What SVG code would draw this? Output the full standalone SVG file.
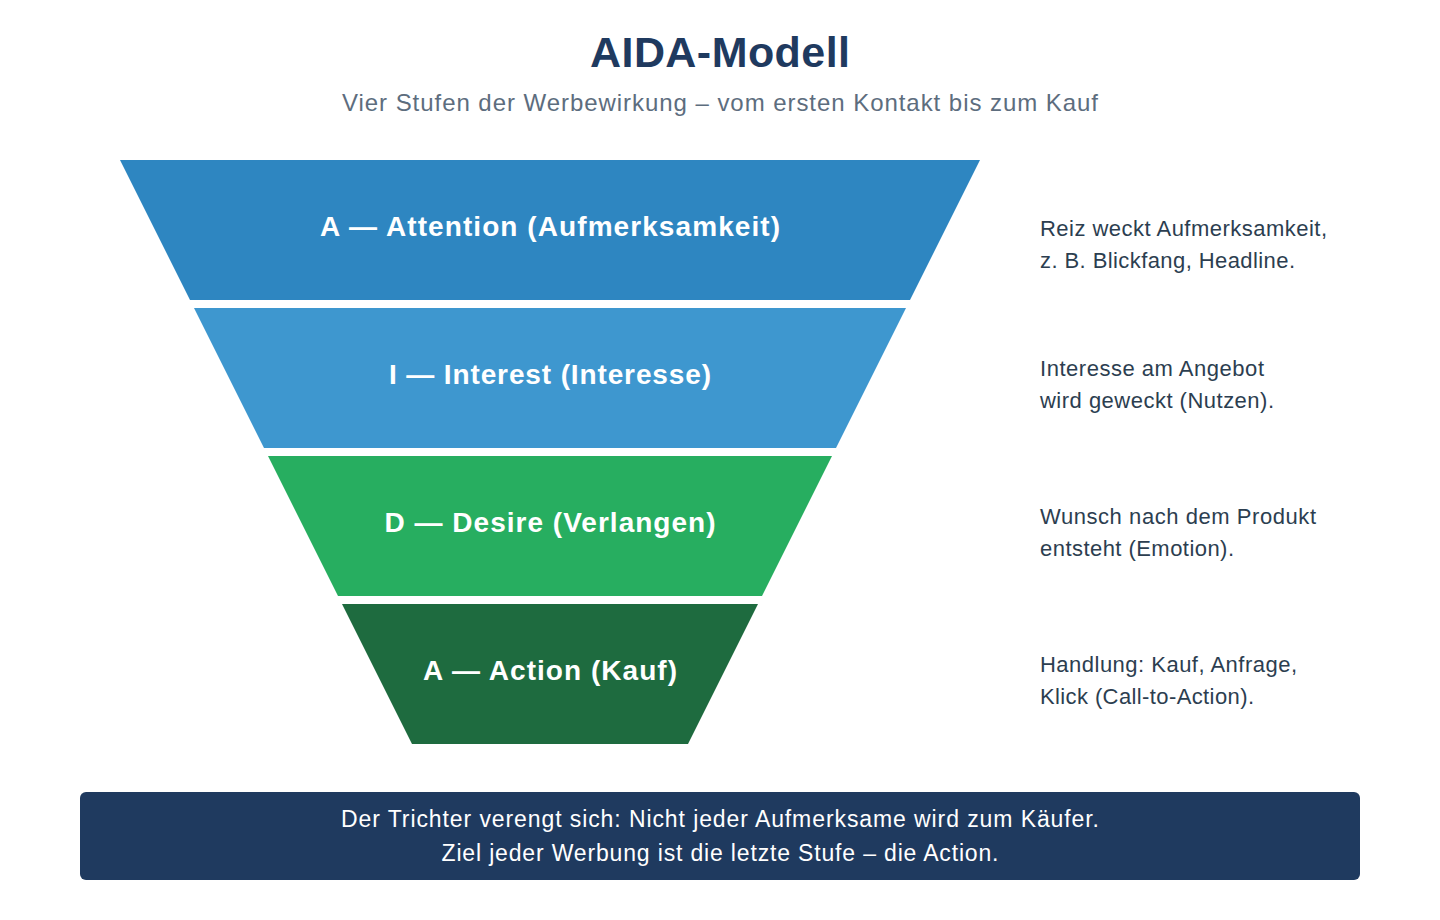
<svg xmlns="http://www.w3.org/2000/svg" width="1440" height="920" viewBox="0 0 1440 920">
<style>
.title{font-family:"Liberation Sans",Arial,sans-serif;font-weight:bold;font-size:43px;fill:#1f3a5f;text-anchor:middle}
.sub{font-family:"Liberation Sans",Arial,sans-serif;font-size:24px;fill:#5d6d7e;text-anchor:middle}
.lbl{font-family:"Liberation Sans",Arial,sans-serif;font-weight:bold;font-size:28px;fill:#ffffff;text-anchor:middle}
.desc{font-family:"Liberation Sans",Arial,sans-serif;font-size:22px;fill:#2c3e50}
.note{font-family:"Liberation Sans",Arial,sans-serif;font-size:23px;fill:#ffffff;text-anchor:middle}
</style>
<rect width="1440" height="920" fill="#ffffff"/>
<text class="title" x="720" y="67" textLength="260" lengthAdjust="spacing">AIDA-Modell</text>
<text class="sub" x="720" y="111" textLength="756" lengthAdjust="spacing">Vier Stufen der Werbewirkung – vom ersten Kontakt bis zum Kauf</text>
<g id="stage-attention">
<polygon points="120,160 980,160 910,300 190,300" fill="#2e86c1"/>
<text class="lbl" x="550" y="236" textLength="460" lengthAdjust="spacing">A — Attention (Aufmerksamkeit)</text>
<text class="desc" x="1040" y="236" textLength="287" lengthAdjust="spacing">Reiz weckt Aufmerksamkeit,</text>
<text class="desc" x="1040" y="268" textLength="255" lengthAdjust="spacing">z. B. Blickfang, Headline.</text>
</g>
<g id="stage-interest">
<polygon points="194,308 906,308 836,448 264,448" fill="#3e97cf"/>
<text class="lbl" x="550" y="384" textLength="322" lengthAdjust="spacing">I — Interest (Interesse)</text>
<text class="desc" x="1040" y="376" textLength="224" lengthAdjust="spacing">Interesse am Angebot</text>
<text class="desc" x="1040" y="408" textLength="234" lengthAdjust="spacing">wird geweckt (Nutzen).</text>
</g>
<g id="stage-desire">
<polygon points="268,456 832,456 762,596 338,596" fill="#27ae60"/>
<text class="lbl" x="550" y="532" textLength="331" lengthAdjust="spacing">D — Desire (Verlangen)</text>
<text class="desc" x="1040" y="524" textLength="276" lengthAdjust="spacing">Wunsch nach dem Produkt</text>
<text class="desc" x="1040" y="556" textLength="194" lengthAdjust="spacing">entsteht (Emotion).</text>
</g>
<g id="stage-action">
<polygon points="342,604 758,604 688,744 412,744" fill="#1e6b3f"/>
<text class="lbl" x="550" y="680" textLength="254" lengthAdjust="spacing">A — Action (Kauf)</text>
<text class="desc" x="1040" y="672" textLength="257" lengthAdjust="spacing">Handlung: Kauf, Anfrage,</text>
<text class="desc" x="1040" y="704" textLength="214" lengthAdjust="spacing">Klick (Call-to-Action).</text>
</g>
<g id="note">
<rect x="80" y="792" width="1280" height="88" rx="6" fill="#1f3a5f"/>
<text class="note" x="720" y="827" textLength="758" lengthAdjust="spacing">Der Trichter verengt sich: Nicht jeder Aufmerksame wird zum Käufer.</text>
<text class="note" x="720" y="861" textLength="557" lengthAdjust="spacing">Ziel jeder Werbung ist die letzte Stufe – die Action.</text>
</g>
<g id="connectors"></g>
</svg>
